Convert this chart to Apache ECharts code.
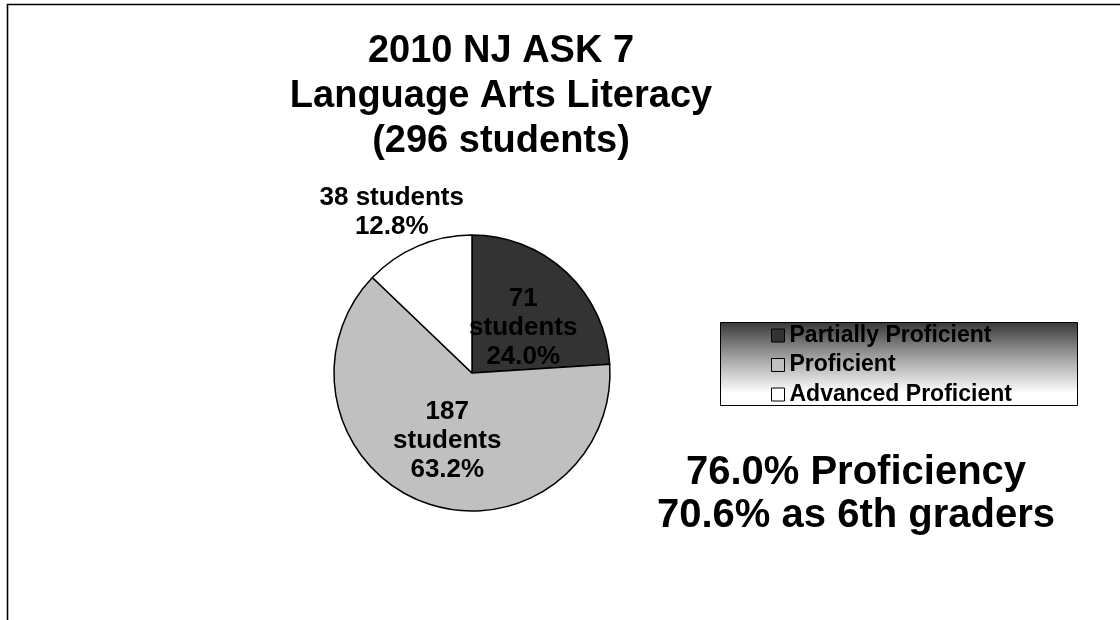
<!DOCTYPE html>
<html>
<head>
<meta charset="utf-8">
<script src="https://cdn.jsdelivr.net/npm/echarts@6/dist/echarts.min.js"></script>
<style>
html,body{margin:0;padding:0;background:#fff;}
#chart{width:1120px;height:620px;}
</style>
</head>
<body>
<div id="chart"></div>
<script>
// ---- data ----
const titleLines = ['2010 NJ ASK 7', 'Language Arts Literacy', '(296 students)'];
const categories = ['Partially Proficient', 'Proficient', 'Advanced Proficient'];
const students = [71, 187, 38];
const sliceColors = ['#333333', '#C0C0C0', '#FFFFFF'];
const noteLines = ['76.0% Proficiency', '70.6% as 6th graders'];

const FONT = '"Liberation Sans", Arial, sans-serif';

const chart = echarts.init(document.getElementById('chart'), null, {renderer: 'canvas'});

const labelOffsets = [[2, 7], [0, 0], [-52, -94]];

const pieData = categories.map((name, i) => {
  const item = {
    name: name,
    value: students[i],
    itemStyle: {color: sliceColors[i]},
    label: {offset: labelOffsets[i]}
  };
  if (i === 2) {
    item.label.formatter = p => p.value + ' students\n' + p.percent.toFixed(1) + '%';
  }
  return item;
});

const option = {
  backgroundColor: '#ffffff',
  animation: false,
  title: {
    text: titleLines.join('\n'),
    left: 501,
    top: 29,
    textAlign: 'center',
    padding: 0,
    textStyle: {
      fontFamily: FONT,
      fontSize: 38,
      fontWeight: 'bold',
      lineHeight: 45,
      color: '#000'
    }
  },
  legend: {
    orient: 'vertical',
    left: 771,
    top: 324,
    padding: 0,
    itemWidth: 13,
    itemHeight: 13,
    itemGap: 6.5,
    icon: 'rect',
    data: categories,
    textStyle: {
      fontFamily: FONT,
      fontSize: 23,
      fontWeight: 'bold',
      color: '#000',
      lineHeight: 22
    },
    itemStyle: {borderColor: '#000', borderWidth: 1}
  },
  graphic: [
    {
      type: 'polyline',
      silent: true,
      shape: {points: [[7.5, 620], [7.5, 4.5], [1120, 4.5]]},
      style: {stroke: '#000', lineWidth: 1.6, fill: null},
      z: 0
    },
    {
      type: 'rect',
      silent: true,
      z: -1,
      shape: {x: 720.5, y: 322.5, width: 357, height: 83},
      style: {
        fill: new echarts.graphic.LinearGradient(0, 0, 0, 1, [
          {offset: 0, color: '#383838'},
          {offset: 0.45, color: '#a8a8a8'},
          {offset: 0.85, color: '#ffffff'},
          {offset: 1, color: '#ffffff'}
        ]),
        stroke: '#000',
        lineWidth: 1
      }
    },
    {
      type: 'text',
      silent: true,
      x: 856,
      y: 451,
      style: {
        text: noteLines.join('\n'),
        align: 'center',
        verticalAlign: 'top',
        fontFamily: FONT,
        fontSize: 40,
        fontWeight: 'bold',
        lineHeight: 43,
        fill: '#000'
      }
    }
  ],
  series: [
    {
      type: 'pie',
      center: [472, 373],
      radius: [0, 138],
      startAngle: 90,
      clockwise: true,
      z: 3,
      itemStyle: {borderColor: '#000', borderWidth: 1.5},
      label: {
        show: true,
        position: 'inside',
        fontFamily: FONT,
        fontSize: 26,
        fontWeight: 'bold',
        lineHeight: 29,
        color: '#000',
        formatter: p => p.value + '\nstudents\n' + p.percent.toFixed(1) + '%'
      },
      labelLine: {show: false},
      emphasis: {disabled: true},
      data: pieData
    }
  ]
};

chart.setOption(option);
</script>
</body>
</html>
